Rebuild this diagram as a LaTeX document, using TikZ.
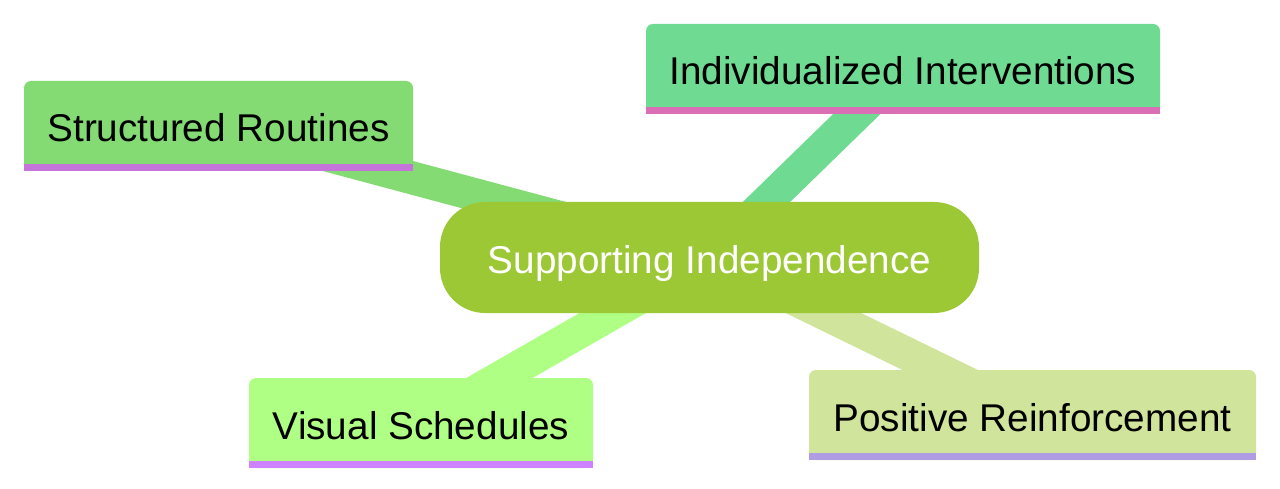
\documentclass[tikz,border=0pt]{standalone}
\usepackage{fontspec}
\setmainfont{Liberation Sans}
\usepackage{tikz}
\usetikzlibrary{positioning,backgrounds}

\definecolor{rootfill}{HTML}{9DC836}
\definecolor{srfill}{HTML}{84DB74}
\definecolor{srline}{HTML}{C574DA}
\definecolor{iifill}{HTML}{6FDA91}
\definecolor{iiline}{HTML}{DA6FB6}
\definecolor{vsfill}{HTML}{B0FF85}
\definecolor{vsline}{HTML}{CF82FF}
\definecolor{prfill}{HTML}{D0E49B}
\definecolor{prline}{HTML}{B09CE2}

\begin{document}
\begin{tikzpicture}[x=1pt,y=-1pt,
  every node/.style={font=\fontsize{38.7}{46}\selectfont,inner sep=0pt,text height=36pt,text depth=4pt},
  rootbox/.style={fill=rootfill,text=white,rounded corners=45pt,minimum width=539pt,minimum height=111pt},
  leaf/.style={fill=#1,text=black,rounded corners=7pt,minimum height=90pt},
  edge/.style={draw=#1,line width=33pt}]
\useasboundingbox (0,0) rectangle (1280,489);
% ---- centre ----
\node[rootbox] (root) at (709.5,257.5) {Supporting Independence};
% ---- branches ----
\node[leaf=srfill,minimum width=389pt] (sr) at (218.5,126) {Structured Routines};
\node[leaf=iifill,minimum width=514pt] (ii) at (903,69) {Individualized Interventions};
\node[leaf=vsfill,minimum width=344pt] (vs) at (421,423) {Visual Schedules};
\node[leaf=prfill,minimum width=447pt] (pr) at (1032.5,415) {Positive Reinforcement};
% underlines
\fill[srline] ([yshift=7pt]sr.south west) rectangle (sr.south east);
\fill[iiline] ([yshift=7pt]ii.south west) rectangle (ii.south east);
\fill[vsline] ([yshift=7pt]vs.south west) rectangle (vs.south east);
\fill[prline] ([yshift=7pt]pr.south west) rectangle (pr.south east);
\begin{scope}[on background layer]
\fill[white] (0,0) rectangle (1280,489);
\draw[edge=srfill] (root.center) -- (sr.center);
\draw[edge=iifill] (root.center) -- (ii.center);
\draw[edge=vsfill] (root.center) -- (vs.center);
\draw[edge=prfill] (root.center) -- (pr.center);
\end{scope}
\end{tikzpicture}
\end{document}
